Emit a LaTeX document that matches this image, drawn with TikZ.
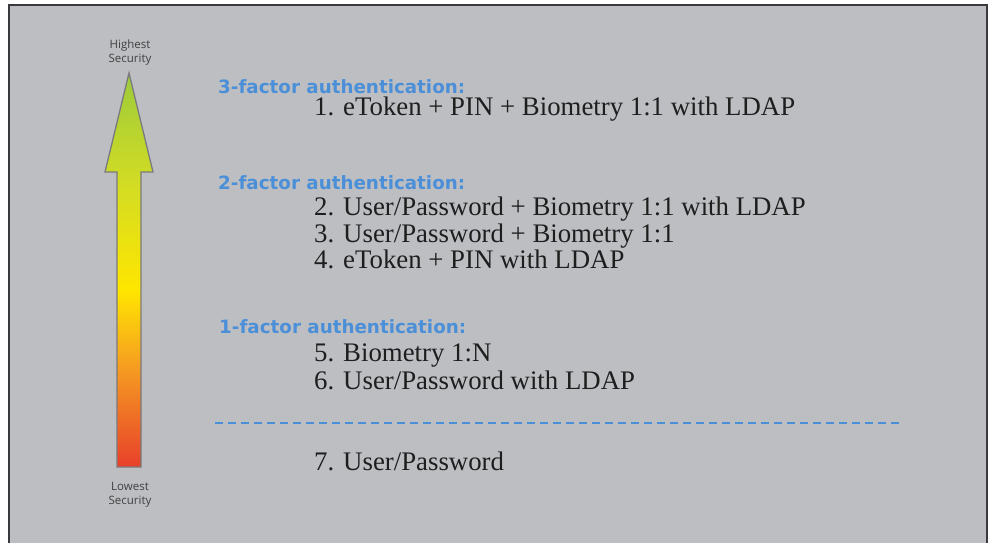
\documentclass[tikz,border=0pt]{standalone}
\usepackage{fontspec}
\setmainfont{Liberation Serif}
\newfontfamily\headfont{DejaVu Sans}
\newfontfamily\smallfont{Open Sans}
\definecolor{bg}{HTML}{BDBEC2}
\definecolor{frame}{HTML}{3A3A3C}
\definecolor{headblue}{HTML}{4A8FD8}
\definecolor{txt}{HTML}{1E1E1E}
\definecolor{arrowedge}{HTML}{7A7A7E}
\definecolor{cA}{HTML}{E8402A}
\definecolor{cB}{HTML}{F59B22}
\definecolor{cC}{HTML}{FFE600}
\definecolor{cD}{HTML}{D2DC24}
\definecolor{cE}{HTML}{9CCB3B}
\pgfdeclareverticalshading{secshade}{100bp}{
  color(0bp)=(cA);
  color(25bp)=(cA);
  color(37.5bp)=(cB);
  color(47.5bp)=(cC);
  color(61bp)=(cD);
  color(75bp)=(cE);
  color(100bp)=(cE)}
\tikzset{
  head/.style={anchor=base west, inner sep=0pt, text=headblue, font=\headfont\bfseries\fontsize{18.3}{21}\selectfont},
  item/.style={anchor=base west, inner sep=0pt, text=txt, font=\fontsize{26.8}{30}\selectfont},
  small/.style={align=center, anchor=base, inner sep=0pt, text=txt!85, font=\smallfont\fontsize{11.5}{14}\selectfont},
}
\begin{document}
\begin{tikzpicture}[x=1pt,y=-1pt]
\useasboundingbox (0,0) rectangle (994,543);
\fill[white] (0,0) rectangle (994,543);
\draw[frame, line width=2pt, fill=bg] (9,5) rectangle (987,560);
% arrow
\path[shading=secshade, draw=arrowedge, line width=1.3pt, line join=miter]
  (129,73) -- (153,172) -- (141,172) -- (141,467) -- (117,467) -- (117,172) -- (105,172) -- cycle;
\coordinate (tip) at (129,73);
\node[small] (hi) at (130,63) {Highest\\Security};
\node[small] (lo) at (130,504) {Lowest\\Security};
% text
\node[head] (h3) at (218,93) {3-factor authentication:};
\node[item] (i1) at (314,116) {1. eToken + PIN + Biometry 1:1 with LDAP};
\node[head] (h2) at (218,189) {2-factor authentication:};
\node[item] (i2) at (314,215) {2. User/Password + Biometry 1:1 with LDAP};
\node[item] (i3) at (314,242) {3. User/Password + Biometry 1:1};
\node[item] (i4) at (314,268) {4. eToken + PIN with LDAP};
\node[head] (h1) at (219,333) {1-factor authentication:};
\node[item] (i5) at (314,361) {5. Biometry 1:N};
\node[item] (i6) at (314,389) {6. User/Password with LDAP};
\coordinate (d1) at (215,423);
\coordinate (d2) at (899,423);
\draw[headblue, line width=2.5pt, dash pattern=on 8pt off 5pt] (d1) -- (d2);
\node[item] (i7) at (314,470) {7. User/Password};
\end{tikzpicture}
\end{document}
